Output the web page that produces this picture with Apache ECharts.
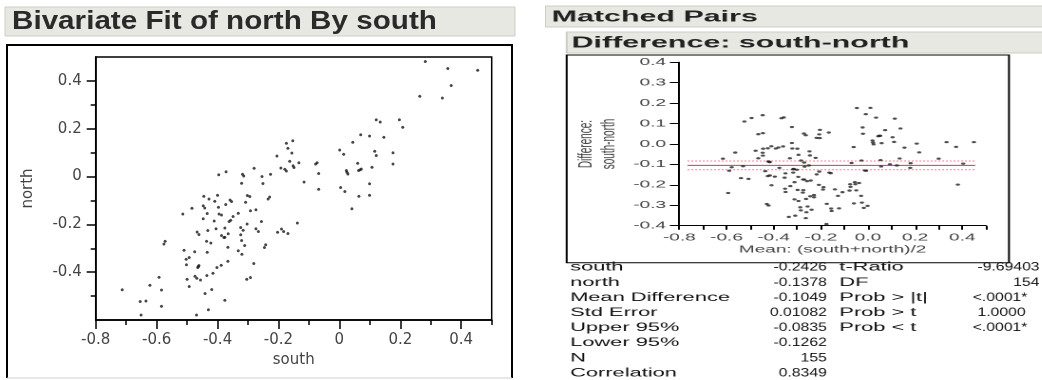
<!DOCTYPE html>
<html>
<head>
<meta charset="utf-8">
<script src="https://cdn.jsdelivr.net/npm/echarts@6/dist/echarts.min.js"></script>
<style>
html,body{margin:0;padding:0;width:1042px;height:380px;overflow:hidden;background:#fff;}
#left{position:absolute;left:0;top:0;width:520px;height:380px;}
/* the right report is stretched sideways in the original screenshot */
#right{position:absolute;left:545px;top:0;width:264px;height:380px;transform:scaleX(1.9);transform-origin:0 0;}
</style>
</head>
<body>
<div id="left"></div>
<div id="right"></div>
<script>
var south = [
	0.282,0.356,0.454,0.367,0.264,0.338,0.121,0.134,0.197,0.208,
	0.070,0.099,0.146,0.044,0.001,0.014,0.116,0.121,0.176,0.176,
	0.060,0.023,0.028,0.063,0.072,0.107,0.099,0.004,0.018,0.064,
	0.099,0.041,0.025,0.068,
	-0.174,-0.153,-0.169,-0.156,-0.205,-0.163,-0.133,-0.192,-0.179,-0.174,
	-0.152,-0.149,-0.073,-0.078,-0.068,-0.068,-0.116,-0.372,-0.318,-0.314,
	-0.321,-0.280,-0.254,-0.251,-0.226,-0.234,-0.229,-0.302,-0.294,-0.308,
	-0.359,-0.354,-0.373,-0.292,-0.274,-0.332,-0.349,-0.357,-0.362,-0.303,
	-0.256,-0.324,-0.316,-0.274,-0.266,-0.376,-0.365,-0.376,-0.324,-0.203,
	-0.190,-0.183,-0.169,-0.138,-0.321,-0.311,-0.242,-0.246,-0.366,-0.332,
	-0.320,-0.366,-0.281,-0.304,-0.292,-0.376,
	-0.396,-0.445,-0.428,-0.409,-0.400,-0.447,-0.442,-0.397,-0.484,-0.514,
	-0.434,-0.395,-0.387,-0.447,-0.411,-0.467,-0.461,-0.432,-0.405,-0.387,
	-0.379,-0.436,-0.422,-0.572,-0.576,-0.510,-0.475,-0.434,-0.493,-0.503,
	-0.502,-0.461,-0.465,-0.402,-0.388,-0.592,-0.474,-0.468,-0.456,-0.500,
	-0.435,-0.415,-0.493,-0.622,-0.584,-0.713,-0.419,-0.441,-0.654,-0.635,
	-0.584,-0.430,-0.651,-0.469,-0.463
];
var north = [
	0.481,0.452,0.445,0.381,0.336,0.329,0.238,0.228,0.238,0.206,
	0.175,0.170,0.164,0.143,0.111,0.093,0.106,0.088,0.100,0.052,
	0.056,0.025,0.011,0.025,0.032,0.039,-0.030,-0.046,-0.063,-0.082,
	-0.078,-0.135,0.018,0.028,
	0.139,0.150,0.118,0.098,0.086,0.064,0.058,0.036,0.031,0.023,
	0.045,0.038,0.058,0.052,0.013,-0.053,-0.023,0.020,0.010,0.002,
	-0.028,0.035,0.000,-0.029,0.010,-0.094,-0.086,-0.079,-0.083,-0.108,
	-0.098,-0.104,-0.117,-0.143,-0.139,-0.153,-0.167,-0.183,-0.188,-0.198,
	-0.188,-0.213,-0.225,-0.218,-0.230,-0.215,-0.239,-0.254,-0.243,-0.233,
	-0.219,-0.230,-0.238,-0.194,-0.268,-0.288,-0.285,-0.297,-0.296,-0.310,
	-0.325,-0.354,-0.364,-0.430,-0.422,-0.517,
	0.007,-0.082,-0.094,-0.103,-0.078,-0.122,-0.132,-0.128,-0.133,-0.157,
	-0.155,-0.157,-0.161,-0.176,-0.186,-0.232,-0.242,-0.226,-0.218,-0.247,
	-0.255,-0.271,-0.278,-0.271,-0.282,-0.308,-0.315,-0.317,-0.339,-0.346,
	-0.369,-0.372,-0.380,-0.380,-0.371,-0.421,-0.417,-0.425,-0.433,-0.430,
	-0.414,-0.404,-0.460,-0.455,-0.475,-0.473,-0.472,-0.489,-0.523,-0.521,
	-0.542,-0.557,-0.579,-0.579,-0.376
];

// ticks
var leftXMajor = [-0.8,-0.6,-0.4,-0.2,0,0.2,0.4];
var leftXMinor = [-0.7,-0.5,-0.3,-0.1,0.1,0.3,0.5];
var leftYMajor = [-0.4,-0.2,0,0.2,0.4];
var leftYMinor = [-0.5,-0.3,-0.1,0.1,0.3];
var rightXLabels = [-0.8,-0.6,-0.4,-0.2,0,0.2,0.4];
var rightXTicks = [-0.8,-0.7,-0.6,-0.5,-0.4,-0.3,-0.2,-0.1,0,0.1,0.2,0.3,0.4,0.5];
var rightYTicks = [-0.4,-0.3,-0.2,-0.1,0,0.1,0.2,0.3,0.4];

// matched pairs summary
var diffLines = [-0.1049, -0.0835, -0.1262];   // mean difference, upper 95%, lower 95%
var diffLineSpan = [-0.765, 0.455];
var statNames = ['south','north','Mean Difference','Std Error','Upper 95%','Lower 95%','N','Correlation'];
var statValues = ['-0.2426','-0.1378','-0.1049','0.01082','-0.0835','-0.1262','155','0.8349'];
var testNames = ['t-Ratio','DF','Prob > |t|','Prob > t','Prob < t'];
var testValues = ['-9.69403','154','<.0001*','1.0000','<.0001*'];

var BAR_FILL = '#e8e8e3', BAR_LINE = '#cdcdc6';

function fmtPlain(v){ return String(+(+v).toFixed(1)); }
function fmtOne(v){ v = +v; if( Math.abs(v) < 1e-9 ){ v = 0; } return v.toFixed(1); }

/* ---------- left : bivariate fit ---------- */
var leftChart = echarts.init(document.getElementById('left'));
var leftLabel = {fontFamily:'DejaVu Sans', fontSize:15, color:'#444'};
var tickLine = {color:'#000', width:1.5};

leftChart.setOption({
	animation: false,
	grid: {left:95.7, top:57, width:396, height:263, show:true, borderColor:'#000', borderWidth:1.5},
	xAxis: [{
		type:'value', min:-0.8, max:0.5, position:'bottom',
		axisLine:{onZero:false, lineStyle:tickLine},
		axisTick:{customValues:leftXMajor, length:9, lineStyle:tickLine},
		axisLabel:$extend({customValues:leftXMajor, margin:13, formatter:fmtPlain}, leftLabel),
		splitLine:{show:false},
		name:'south', nameLocation:'middle', nameGap:31,
		nameTextStyle:leftLabel
	},{
		type:'value', min:-0.8, max:0.5, position:'bottom',
		axisLine:{show:false, onZero:false},
		axisTick:{customValues:leftXMinor, length:5, lineStyle:tickLine},
		axisLabel:{show:false}, splitLine:{show:false}
	}],
	yAxis: [{
		type:'value', min:-0.6, max:0.5, position:'left',
		axisLine:{onZero:false, lineStyle:tickLine},
		axisTick:{customValues:leftYMajor, length:9, lineStyle:tickLine},
		axisLabel:$extend({customValues:leftYMajor, margin:14, formatter:fmtPlain}, leftLabel),
		splitLine:{show:false},
		name:'north', nameLocation:'middle', nameGap:60, nameRotate:90,
		nameTextStyle:leftLabel
	},{
		type:'value', min:-0.6, max:0.5, position:'left',
		axisLine:{show:false, onZero:false},
		axisTick:{customValues:leftYMinor, length:5, lineStyle:tickLine},
		axisLabel:{show:false}, splitLine:{show:false}
	}],
	graphic: [
		{type:'rect', z:0, shape:{x:5, y:7, width:510, height:29}, style:{fill:BAR_FILL, stroke:BAR_LINE, lineWidth:1}},
		{type:'text', z:5, x:12, y:22, scaleX:1.14,
			style:{text:'Bivariate Fit of north By south', x:0, y:0, font:'bold 26px "Liberation Sans"', fill:'#2a2a2a',
				align:'left', verticalAlign:'middle', textAlign:'left', textVerticalAlign:'middle'}},
		{type:'polyline', z:0, shape:{points:[[7,378],[7,45],[512,45],[512,378]]}, style:{fill:null, stroke:'#000', lineWidth:2}},
		{type:'line', z:0, shape:{x1:7, y1:378, x2:512, y2:378}, style:{stroke:'#d0d0d0', lineWidth:1}}
	],
	series: [{
		type:'scatter', xAxisIndex:0, yAxisIndex:0,
		symbolSize:3, itemStyle:{color:'#1a1a1a'},
		data: south.map(function(s, i){ return [s, north[i]]; })
	}]
});

/* ---------- right : matched pairs ---------- */
var rightChart = echarts.init(document.getElementById('right'), null, {devicePixelRatio:2});
var rightLabel = {fontFamily:'Liberation Sans', fontSize:10, color:'#444'};
var tableFont = '11.5px "Liberation Sans"';

// one series per reference line so each keeps its own colour
var lineSeries = diffLines.map(function(v, i){
	var style = i === 0 ? {type:'solid', color:'#e0304f', width:1} : {type:'dotted', color:'#f07e92', width:1};
	return {
		type:'line', symbol:'none', silent:true, z:3,
		lineStyle:style, itemStyle:{color:style.color},
		data:[[diffLineSpan[0], v], [diffLineSpan[1], v]]
	};
});

var graphics = [
	{type:'rect', z:0, shape:{x:0, y:6, width:264, height:21}, style:{fill:BAR_FILL, stroke:BAR_LINE, lineWidth:1}},
	{type:'text', z:5, x:3.5, y:17, style:{text:'Matched Pairs', x:0, y:0, font:'bold 16px "Liberation Sans"', fill:'#222',
		align:'left', verticalAlign:'middle', textAlign:'left', textVerticalAlign:'middle'}},
	{type:'rect', z:0, shape:{x:11.4, y:32, width:253, height:21}, style:{fill:BAR_FILL, stroke:BAR_LINE, lineWidth:1}},
	{type:'text', z:5, x:14, y:43, style:{text:'Difference: south-north', x:0, y:0, font:'bold 16px "Liberation Sans"', fill:'#222',
		align:'left', verticalAlign:'middle', textAlign:'left', textVerticalAlign:'middle'}},
	{type:'rect', z:0, shape:{x:11.4, y:55, width:232.8, height:207.7}, style:{fill:'#fff', stroke:'#000', lineWidth:1}}
];

// numbers in the report are set narrower than the words
function tableText(txt, x, y, align, narrow){
	return {type:'text', z:5, x:x, y:y, scaleX:narrow ? 0.72 : 1,
		style:{text:txt, x:0, y:0, font:tableFont, fill:'#111',
		align:align, verticalAlign:'middle', textAlign:align, textVerticalAlign:'middle'}};
}
$each(statNames, function(name, i){
	var y = 267.5 + i * 15.1;
	graphics.push(tableText(name, 13.2, y, 'left'));
	graphics.push(tableText(statValues[i], 148.3, y, 'right', true));
});
$each(testNames, function(name, i){
	var y = 267.5 + i * 15.1;
	var v = testValues[i];
	graphics.push(tableText(name, 154.9, y, 'left'));
	if( v.indexOf('.') < 0 ){
		graphics.push(tableText(v, 260.2, y, 'right', true));
	}else{
		graphics.push(tableText(v, v.charAt(0) === '<' ? 225.1 : 227.6, y, 'left', true));
	}
});

rightChart.setOption({
	animation: false,
	grid: {left:70.7, top:62.3, width:161.3, height:163.4, show:true, borderColor:'#000', borderWidth:1},
	xAxis: {
		type:'value', min:-0.8, max:0.5,
		axisLine:{onZero:false, lineStyle:{color:'#000', width:1}},
		axisTick:{customValues:rightXTicks, length:4, lineStyle:{color:'#000'}},
		axisLabel:$extend({customValues:rightXLabels, margin:7, formatter:fmtOne}, rightLabel),
		splitLine:{show:false},
		name:'Mean: (south+north)/2', nameLocation:'middle', nameGap:19,
		nameTextStyle:rightLabel
	},
	yAxis: {
		type:'value', min:-0.4, max:0.4,
		axisLine:{onZero:false, lineStyle:{color:'#000', width:1}},
		axisTick:{customValues:rightYTicks, length:5, lineStyle:{color:'#000'}},
		axisLabel:$extend({customValues:rightYTicks, margin:7, formatter:fmtOne}, rightLabel),
		splitLine:{show:false},
		name:'Difference:\nsouth-north', nameLocation:'middle', nameGap:31, nameRotate:90,
		nameMoveOverlap:false,
		nameTextStyle:$extend({lineHeight:12}, rightLabel)
	},
	graphic: graphics,
	series: [{
		type:'scatter', symbolSize:2.3, itemStyle:{color:'#222'}, z:4,
		data: south.map(function(s, i){ return [(s + north[i]) / 2, s - north[i]]; })
	}].concat(lineSeries)
});

function $extend(a, b){ for( var k in b ){ a[k] = b[k]; } return a; }
function $each(arr, fn){ for( var i = 0; i < arr.length; i++ ){ fn(arr[i], i); } }
</script>
</body>
</html>
